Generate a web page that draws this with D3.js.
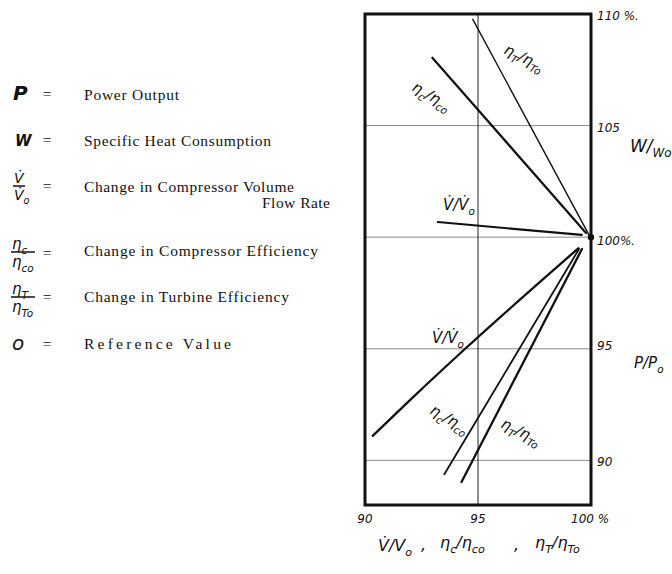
<!DOCTYPE html>
<html><head><meta charset="utf-8">
<script src="https://cdn.jsdelivr.net/npm/d3@7"></script>
<style>
html,body{margin:0;padding:0;background:#fff;}
svg{display:block;}
.hand{font-family:"DejaVu Sans",sans-serif;font-style:italic;fill:#111;}
.leg{font-family:"Liberation Serif",serif;font-size:15.5px;fill:#111;}
</style></head>
<body>
<svg id="chart" width="672" height="574"></svg>
<script>
// ---------- data ----------
const xTicks = [90, 95, 100];
const xTickLabels = ["90", "95", "100 %"];
const yTicks = [90, 95, 100, 105, 110];
const yTickLabels = ["90", "95", "100%.", "105", "110 %."];

// Specific heat consumption W/Wo (upper half)
const heatTurbineX = [94.77, 99.91];
const heatTurbineY = [109.76, 100.10];
const heatCompX = [92.98, 99.78];
const heatCompY = [108.04, 100.19];
const heatVolX = [93.22, 99.59];
const heatVolY = [100.68, 100.10];

// Power output P/Po (lower half)
const powerVolX = [90.34, 91.99, 94.42, 99.44];
const powerVolY = [91.10, 92.70, 94.99, 99.50];
const powerCompX = [93.51, 99.47];
const powerCompY = [89.38, 99.47];
const powerTurbX = [94.27, 99.60];
const powerTurbY = [89.03, 99.47];

const refPoint = [100, 100];

const legendTexts = ["Power Output", "Specific Heat Consumption", "Change in Compressor Volume",
  "Change in Compressor Efficiency", "Change in Turbine Efficiency", "Reference Value"];

// ---------- drawing ----------
const svg = d3.select("#chart");
const x = d3.scaleLinear().domain([90, 100]).range([365, 591]);
const y = d3.scaleLinear().domain([88, 110]).range([505, 14]);

// horizontal grid
svg.append("g").selectAll("line").data(yTicks.filter(v => v < 110)).join("line")
  .attr("x1", x(90)).attr("x2", x(100))
  .attr("y1", d => y(d)).attr("y2", d => y(d))
  .attr("stroke", "#8a8a8a").attr("stroke-width", 1);
// vertical line at 95
svg.append("line").attr("x1", x(95)).attr("x2", x(95)).attr("y1", y(110)).attr("y2", y(88))
  .attr("stroke", "#222").attr("stroke-width", 1);

// frame
svg.append("rect").attr("x", x(90)).attr("y", y(110))
  .attr("width", x(100) - x(90)).attr("height", y(88) - y(110))
  .attr("fill", "none").attr("stroke", "#111").attr("stroke-width", 3);

const zip = (xs, ys) => xs.map((v, i) => [v, ys[i]]);
const line = d3.line().x(d => x(d[0])).y(d => y(d[1]));
const curved = d3.line().x(d => x(d[0])).y(d => y(d[1])).curve(d3.curveMonotoneX);

const series = [
  {pts: zip(heatTurbineX, heatTurbineY), w: 1.4, gen: line},
  {pts: zip(heatCompX, heatCompY), w: 2.2, gen: line},
  {pts: zip(heatVolX, heatVolY), w: 2.2, gen: line},
  {pts: zip(powerVolX, powerVolY), w: 2.3, gen: curved},
  {pts: zip(powerCompX, powerCompY), w: 1.8, gen: line},
  {pts: zip(powerTurbX, powerTurbY), w: 2.3, gen: line}
];
svg.append("g").selectAll("path").data(series).join("path")
  .attr("d", d => d.gen(d.pts)).attr("fill", "none")
  .attr("stroke", "#111").attr("stroke-width", d => d.w).attr("stroke-linecap", "round");

svg.append("circle").attr("cx", x(refPoint[0])).attr("cy", y(refPoint[1])).attr("r", 3.2).attr("fill", "#111");

// helper: text with sub parts
function rich(g, px, py, size, parts, rot) {
  const t = g.append("text").attr("class", "hand").attr("font-size", size)
    .attr("transform", `translate(${px},${py}) rotate(${rot || 0})`);
  let shift = 0;
  parts.forEach(p => {
    const target = p.sub ? size * 0.3 : 0;
    const ts = t.append("tspan").text(p.t).attr("dy", target - shift);
    if (p.sub) ts.attr("font-size", size * 0.7);
    shift = target;
  });
  return t;
}
const etaT = [{t:"η"},{t:"T",sub:true},{t:"/"},{t:"η"},{t:"To",sub:true}];
const etaC = [{t:"η"},{t:"c",sub:true},{t:"/"},{t:"η"},{t:"co",sub:true}];
const vol = [{t:"V\u0307/V\u0307"},{t:"o",sub:true}];

const lab = svg.append("g");
rich(lab, 503, 53, 15, etaT, 26);
rich(lab, 411, 90, 15, etaC, 30);
rich(lab, 443, 210, 15, vol, 0);
rich(lab, 432, 343, 15, vol, 0);
rich(lab, 429, 413, 15, etaC, 30);
rich(lab, 500, 427, 15, etaT, 26);

// right side y labels
const yLabPos = {90: 466, 95: 350, 100: 245, 105: 132, 110: 20};
svg.append("g").selectAll("text").data(yTicks).join("text")
  .attr("class", "hand").attr("font-size", 12)
  .attr("x", 597).attr("y", d => yLabPos[d])
  .text((d, i) => yTickLabels[i]);
rich(svg, 630, 152, 17, [{t:"W/"},{t:"Wo",sub:true}], 0);
rich(svg, 634, 368, 15, [{t:"P/P"},{t:"o",sub:true}], 0);

// x tick labels
svg.append("g").selectAll("text").data(xTicks).join("text")
  .attr("class", "hand").attr("font-size", 12)
  .attr("x", d => x(d)).attr("y", 523)
  .attr("text-anchor", (d, i) => i === 2 ? "start" : "middle")
  .attr("dx", (d, i) => i === 2 ? -20 : 0)
  .text((d, i) => xTickLabels[i]);

// x axis title
rich(svg, 378, 551, 16, [{t:"V\u0307/V"},{t:"o",sub:true}], 0);
rich(svg, 421, 550, 16, [{t:","}], 0);
rich(svg, 440, 548, 16, etaC, 0);
rich(svg, 514, 550, 16, [{t:","}], 0);
rich(svg, 535, 548, 16, etaT, 0);

// ---------- legend ----------
const lg = svg.append("g");
const rowsY = [100, 146, 192, 256, 302, 349];
const textLens = [95, 187, 210, 234, 205, 147];
lg.selectAll("text.leg").data(legendTexts).join("text").attr("class", "leg")
  .attr("x", 84).attr("y", (d, i) => rowsY[i])
  .attr("textLength", (d, i) => textLens[i]).attr("lengthAdjust", "spacing")
  .text(d => d);
lg.append("text").attr("class", "leg").attr("x", 262).attr("y", 208)
  .attr("textLength", 68).attr("lengthAdjust", "spacing").text("Flow Rate");
// equals signs
const eqY = [99, 145, 191, 258, 302, 349];
lg.selectAll("text.eq").data(eqY).join("text").attr("class", "leg eq")
  .attr("x", 47).attr("y", d => d).attr("text-anchor", "middle").attr("font-size", 14).text("=");

// symbols
lg.append("text").attr("class", "hand").attr("font-size", 20).attr("font-weight", "bold").attr("x", 13).attr("y", 100).text("P");
lg.append("text").attr("class", "hand").attr("font-size", 15).attr("font-weight", "bold").attr("x", 15).attr("y", 146).text("W");
lg.append("text").attr("class", "hand").attr("font-size", 20).attr("x", 12).attr("y", 350).text("o");

function frac(cx, lineY, num, den, w, size) {
  rich(lg, cx - w / 2 + 1, lineY - 3, size, num, 0);
  lg.append("line").attr("x1", cx - w / 2).attr("x2", cx + w / 2).attr("y1", lineY).attr("y2", lineY)
    .attr("stroke", "#111").attr("stroke-width", 1.5);
  rich(lg, cx - w / 2 + 1, lineY + size, size, den, 0);
}
frac(19, 186, [{t:"V\u0307"}], [{t:"V\u0307"},{t:"o",sub:true}], 12, 14);
frac(23, 252, [{t:"η"},{t:"c",sub:true}], [{t:"η"},{t:"co",sub:true}], 24, 15);
frac(23, 297, [{t:"η"},{t:"T",sub:true}], [{t:"η"},{t:"To",sub:true}], 24, 15);
</script>
</body></html>
